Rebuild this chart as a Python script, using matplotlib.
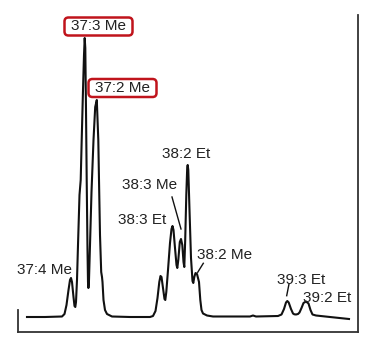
import matplotlib
matplotlib.use("Agg")
import matplotlib.pyplot as plt
from matplotlib.patches import FancyBboxPatch
from matplotlib.transforms import IdentityTransform

# Chromatogram trace (retention, arbitrary units ; detector signal, arbitrary units)
retention = [9, 27, 44, 46.5, 48.5, 50.5, 52, 53, 54, 55.5, 56.5, 57.3, 58, 59, 60, 61.5,
             62.7, 63.7, 65, 66, 66.7, 67.3, 68, 68.7, 69.5, 70, 70.4, 70.9, 72, 73.5,
             75.5, 77.2, 78.8, 80.3, 81, 82, 83.2, 84, 84.5, 85.5, 87, 89, 94,
             112, 132, 135, 137.5, 139.5, 141.3, 142.5, 143.5, 145, 146.5, 147.3, 148.3,
             150, 152, 153.5, 154.5, 155.5, 157, 158.5, 159.3, 160.3, 161.8, 163, 164.3,
             165.5, 166.3, 167.2, 168.3, 169.2, 169.7, 170.3, 171.5, 173, 174.5, 175.3,
             176.3, 177.5, 179, 181, 182.3, 183.5, 185, 189, 195, 217, 232, 235, 238,
             260, 263.5, 266, 268, 269.3, 270.7, 273, 275, 276.3, 278, 280, 281.5, 283.5,
             285.5, 288, 290.5, 292.5, 294.5, 298, 312, 331]
signal = [15, 15, 15.5, 18, 27, 42, 52, 54, 50, 35, 26, 25, 30, 52, 87, 137,
          152, 192, 242, 277, 294, 284, 222, 152, 82, 50, 44, 49, 87, 140,
          192, 225, 232, 192, 152, 97, 60, 55, 50, 32, 22, 18, 15.5,
          15, 15, 16, 21, 34, 50, 56, 55, 44, 33, 32, 40,
          62, 89, 103, 106, 102, 84, 67, 64, 72, 90, 93, 87,
          70, 65, 92, 137, 164, 167, 162, 122, 74, 51, 49,
          55, 59, 58, 50, 32, 22, 18.5, 16.5, 15.5, 15.5, 15.5, 16.5, 15.5,
          16, 17.5, 23, 29.5, 31, 29.5, 23, 18.5, 17.7, 17.5, 18, 19.5, 24,
          29, 30.5, 28.5, 22, 17.5, 16.5, 15, 13]

# Peak labels: text, label position, optional leader line, highlighted
labels = ["37:3 Me", "37:2 Me", "37:4 Me", "38:2 Et", "38:3 Me", "38:3 Et",
          "38:2 Me", "39:3 Et", "39:2 Et"]
label_t = [80.5, 104.5, 27, 167.7, 132, 124.5, 206.7, 283, 309.5]
label_s = [305.5, 244, 62, 178, 147, 112, 77, 52, 34.3]
boxed = [True, True, False, False, False, False, False, False, False]
leader_from = {"38:3 Me": (154, 135), "38:2 Me": (185.3, 68.7), "39:3 Et": (271, 48)}
leader_to = {"38:3 Me": (163, 103), "38:2 Me": (179.7, 59.7), "39:3 Et": (268.7, 36.3)}

W, H = 372, 338
fig = plt.figure(figsize=(W / 100, H / 100), dpi=100)
ax = fig.add_axes([18 / W, (H - 332) / H, 340 / W, 317 / H])
ax.set_xlim(0, 340)
ax.set_ylim(0, 317)

ax.plot(retention, signal, color="#111111", lw=1.5, solid_joinstyle="round")

font = dict(family=["Liberation Sans", "DejaVu Sans"], size=11, color="#222222")
boxed_texts = []
for lab, t, s, bx in zip(labels, label_t, label_s, boxed):
    txt = ax.text(t, s, lab, ha="center", va="center", zorder=5, **font)
    if bx:
        boxed_texts.append(txt)
    if lab in leader_from:
        (x0, y0), (x1, y1) = leader_from[lab], leader_to[lab]
        ax.plot([x0, x1], [y0, y1], color="#111111", lw=1.0)

for side in ["top"]:
    ax.spines[side].set_visible(False)
for side in ["left", "right", "bottom"]:
    ax.spines[side].set_color("#333333")
    ax.spines[side].set_linewidth(1.3)
ax.spines["left"].set_bounds(0, 22)
ax.set_xticks([])
ax.set_yticks([])
ax.patch.set_visible(False)

fig.canvas.draw()
renderer = fig.canvas.get_renderer()
for txt in boxed_texts:
    bb = txt.get_window_extent(renderer)
    padx, pady = 6.5, 2.0
    patch = FancyBboxPatch((bb.x0 - padx, bb.y0 - pady), bb.width + 2 * padx,
                           bb.height + 2 * pady,
                           boxstyle="round,pad=0,rounding_size=4",
                           fc="white", ec="#c0141c", lw=1.8,
                           transform=IdentityTransform(), zorder=4, clip_on=False)
    ax.add_artist(patch)

fig.savefig("out.png", dpi=100, facecolor="white")
